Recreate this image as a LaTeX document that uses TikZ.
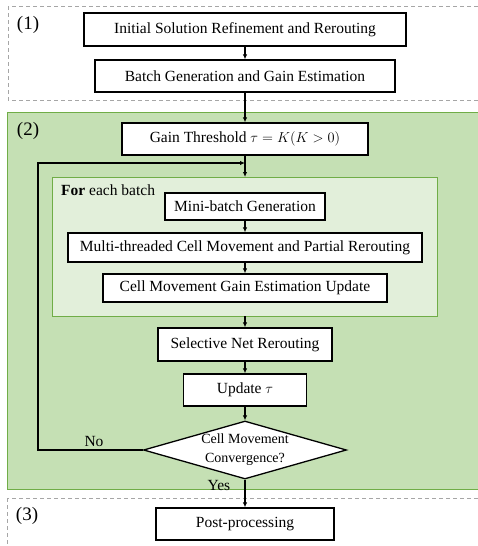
\documentclass[tikz,border=0pt]{standalone}
\usepackage{fontspec}
\setmainfont{Liberation Serif}
\usetikzlibrary{arrows.meta,shapes.geometric}
\definecolor{gfill}{HTML}{C5E0B4}
\definecolor{gline}{HTML}{70AD47}
\definecolor{lfill}{HTML}{E2EFDA}
\definecolor{dgray}{HTML}{A6A6A6}
\tikzset{
  stepbox/.style={draw=black, line width=1.3pt, fill=white, inner sep=0pt,
    font=\fontsize{15.5}{18}\selectfont},
  decision/.style={diamond, draw=black, line width=1.3pt, fill=white, inner sep=0pt,
    aspect=3.5, align=center, font=\fontsize{14}{19}\selectfont},
  flow/.style={line width=1.1pt, -{Latex[length=5pt,width=4.5pt]}},
  phase/.style={draw=dgray, line width=0.9pt, dash pattern=on 4pt off 3pt},
  region/.style={draw=gline, line width=1pt, fill=gfill},
  subregion/.style={draw=gline, line width=1pt, fill=lfill},
  tag/.style={inner sep=0pt, font=\fontsize{19}{22}\selectfont},
  lbl/.style={inner sep=0pt, font=\fontsize{15.5}{18}\selectfont}
}
\begin{document}
\begin{tikzpicture}[x=1pt, y=-1pt]
\useasboundingbox (0,0) rectangle (478,546);
\clip (0,0) rectangle (478,546);
% phase regions
\draw[phase] (8,6) rectangle (492,100);
\draw[region] (7,112) rectangle (492,489);
\draw[phase] (7,498) rectangle (492,560);
\draw[subregion] (52,177) rectangle (437,316);
\node[tag] (t1) at (28,25) {(1)};
\node[tag] (t2) at (28,131) {(2)};
\node[tag] (t3) at (27,516) {(3)};
% boxes
\node[stepbox, minimum width=322pt, minimum height=33pt] (init) at (245,29.5) {Initial Solution Refinement and Rerouting};
\node[stepbox, minimum width=300pt, minimum height=32pt] (batch) at (245,76) {Batch Generation and Gain Estimation};
\node[stepbox, minimum width=246pt, minimum height=32pt] (gain) at (245,139) {Gain Threshold $\tau = K(K > 0)$};
\coordinate (inner) at (245,177);
\node[lbl, anchor=west] (foreach) at (61,190) {\textbf{For} each batch};
\node[stepbox, minimum width=160pt, minimum height=27pt] (mini) at (245,206.5) {Mini-batch Generation};
\node[stepbox, minimum width=354pt, minimum height=29pt] (multi) at (245,247.5) {Multi-threaded Cell Movement and Partial Rerouting};
\node[stepbox, minimum width=284pt, minimum height=28pt] (cmg) at (245,288) {Cell Movement Gain Estimation Update};
\coordinate (innerb) at (245,316);
\node[stepbox, minimum width=174pt, minimum height=33pt] (sel) at (245,344.5) {Selective Net Rerouting};
\node[stepbox, minimum width=123pt, minimum height=32pt] (upd) at (245,390) {Update $\tau$};
\node[decision, minimum width=203pt, minimum height=58pt] (conv) at (245,450) {Cell Movement\\Convergence?};
\node[stepbox, minimum width=178pt, minimum height=32pt] (post) at (245,524) {Post-processing};
% connectors
\draw[flow] (init) -- (batch);
\draw[flow] (batch) -- (gain);
\draw[flow] (gain.south) -- (inner);
\coordinate (merge) at (245,163);
\coordinate (lx) at (38,450);
\draw[flow] (conv.west) -- (lx) |- (merge);
\draw[flow] (mini) -- (multi);
\draw[flow] (multi) -- (cmg);
\draw[flow] (innerb) -- (sel.north);
\draw[flow] (sel) -- (upd);
\draw[flow] (upd) -- (conv.north);
\draw[flow] (conv.south) -- (post);
\node[lbl] (no) at (94,441) {No};
\node[lbl] (yes) at (219,485) {Yes};
\end{tikzpicture}
\end{document}
